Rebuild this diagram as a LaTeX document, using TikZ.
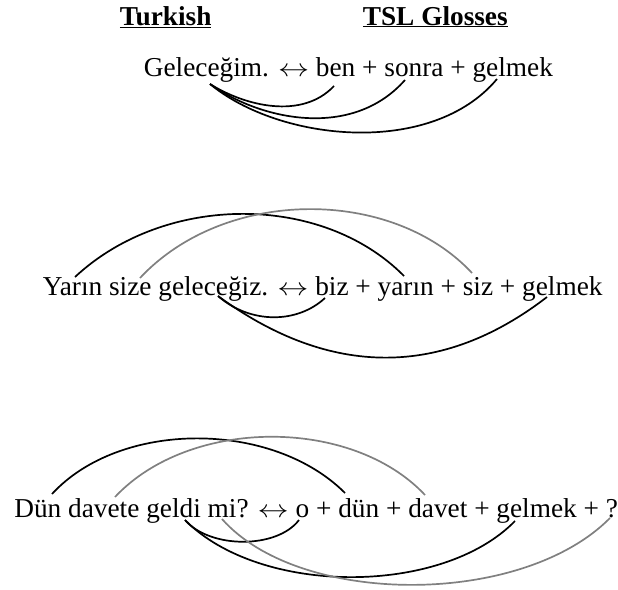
\documentclass[tikz,border=0pt]{standalone}
\usepackage{graphicx}
\usepackage{fontspec}
\setmainfont{Liberation Serif}
\newcommand{\eqv}{\scalebox{1.25}[1]{$\leftrightarrow$}}

\begin{document}
\begin{tikzpicture}[x=1pt,y=-1pt,line width=1.7pt,
                    every node/.style={inner sep=0pt,anchor=base west,
                      font=\fontsize{27.3}{33}\selectfont},
                    gl/.style={draw=black!50}]
  \useasboundingbox (0,0) rectangle (618,589);
  \node (tur) at (119,25) {\textbf{\underline{Turkish}}};
  \node (tsl) at (362,25) {\textbf{\underline{TSL Glosses}}};
  % sentence 1
  \node (s1) at (143,76) {Geleceğim. \eqv{} ben + sonra + gelmek};
  \coordinate (gel1) at (210,84);
  \coordinate (ben) at (334,86);
  \coordinate (sonra) at (405,80);
  \coordinate (gelm1) at (497,79);
  \draw (gel1) .. controls +(35,22) and +(-32,34) .. (ben);
  \draw (gel1) .. controls +(50,36) and +(-53,60) .. (sonra);
  \draw (gel1) .. controls +(70,58) and +(-65,78) .. (gelm1);
  % sentence 2
  \node (s2) at (42,295) {Yarın size geleceğiz. \eqv{} biz + yarın + siz + gelmek};
  \coordinate (yar) at (75,277);
  \coordinate (size) at (140,278);
  \coordinate (gel2) at (218,296);
  \coordinate (biz) at (325,298);
  \coordinate (yarin) at (404,276);
  \coordinate (siz) at (472,273);
  \coordinate (gelm2) at (547,297);
  \draw (yar) .. controls +(90,-84) and +(-82,-83) .. (yarin);
  \draw[gl] (size) .. controls +(85,-91) and +(-80,-86) .. (siz);
  \draw (gel2) .. controls +(32,28) and +(-28,26) .. (biz);
  \draw (gel2) .. controls +(112,82) and +(-105,81) .. (gelm2);
  % sentence 3
  \node (s3) at (13.5,517) {Dün davete geldi mi? \eqv{} o + dün + davet + gelmek + ?};
  \coordinate (Dun) at (52,494);
  \coordinate (davete) at (115,497);
  \coordinate (geldi) at (185,520);
  \coordinate (mi) at (222,519);
  \coordinate (o) at (299,520);
  \coordinate (dun) at (345,493);
  \coordinate (davet) at (425,495);
  \coordinate (gelm3) at (515,521);
  \coordinate (qm) at (610,518);
  \draw (Dun) .. controls +(68,-74) and +(-73,-73) .. (dun);
  \draw[gl] (davete) .. controls +(75,-80) and +(-73,-78) .. (davet);
  \draw (geldi) .. controls +(25,29) and +(-22,29) .. (o);
  \draw (geldi) .. controls +(75,76) and +(-73,75) .. (gelm3);
  \draw[gl] (mi) .. controls +(78,88) and +(-88,89) .. (qm);
\end{tikzpicture}
\end{document}
